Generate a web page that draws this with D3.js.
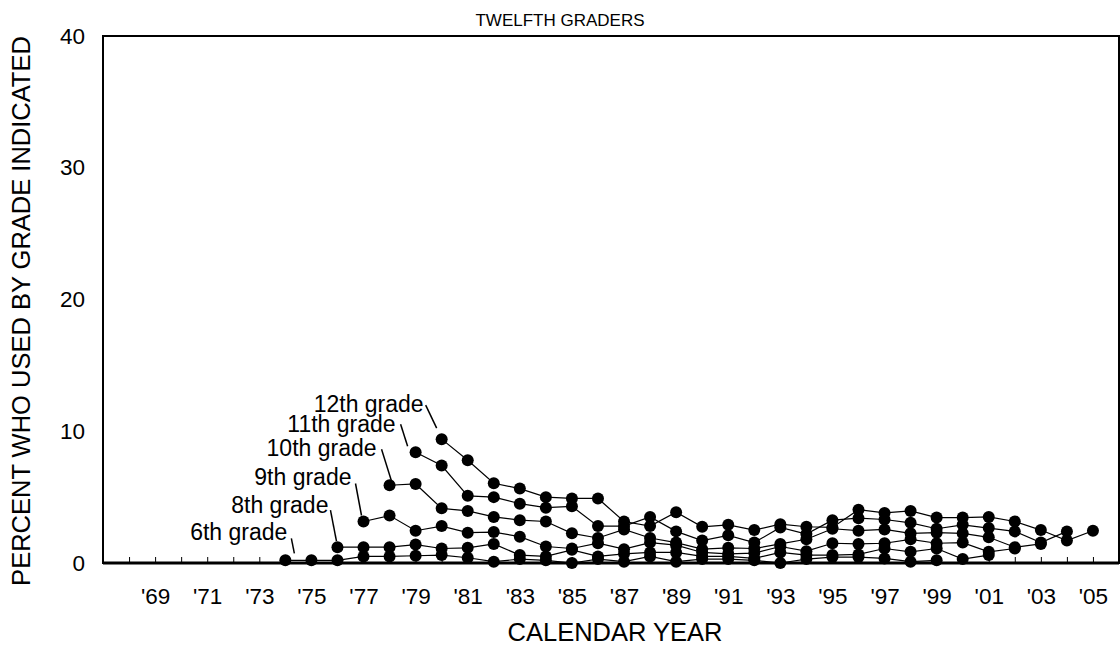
<!DOCTYPE html>
<html>
<head>
<meta charset="utf-8">
<script src="https://cdn.jsdelivr.net/npm/d3@7"></script>
<style>
  html, body { margin: 0; padding: 0; background: #fff; }
  svg { display: block; font-family: "Liberation Sans", Arial, sans-serif; }
</style>
</head>
<body>
<svg id="chart" width="1120" height="646"></svg>
<script>
// ---------- DATA ----------
const grades = ["6th grade", "8th grade", "9th grade", "10th grade", "11th grade", "12th grade"];
const startYears = [1974, 1976, 1977, 1978, 1979, 1980];

const grade6  = [0.2, 0.2, 0.2, 0.5, 0.5, 0.55, 0.6, 0.4, 0.1, 0.3, 0.2, 0.0, 0.3, 0.1, 0.5, 0.1, 0.3, 0.3, 0.2, 0.0, 0.3, 0.45, 0.45, 0.35, 0.1, 0.2];
const grade8  = [1.2, 1.2, 1.2, 1.4, 1.1, 1.15, 1.45, 0.6, 0.5, 1.0, 0.5, 0.7, 0.8, 0.8, 0.5, 0.5, 0.35, 0.8, 0.6, 0.6, 0.65, 1.1, 0.85, 1.1, 0.3, 0.6];
const grade9  = [3.15, 3.6, 2.45, 2.8, 2.3, 2.35, 2.0, 1.25, 1.1, 1.5, 1.05, 1.55, 1.35, 0.8, 0.7, 0.75, 1.25, 0.9, 1.5, 1.45, 1.5, 1.8, 1.5, 1.55, 0.85, 1.1];
const grade10 = [5.9, 6.0, 4.15, 3.95, 3.5, 3.25, 3.15, 2.25, 1.9, 2.55, 1.9, 1.55, 1.05, 1.15, 1.1, 1.45, 1.8, 2.6, 2.45, 2.55, 2.25, 2.3, 2.25, 1.95, 1.2, 1.45];
const grade11 = [8.4, 7.4, 5.1, 5.0, 4.5, 4.2, 4.3, 2.8, 2.8, 3.5, 2.4, 1.7, 2.1, 1.55, 2.7, 2.2, 3.25, 3.4, 3.3, 3.05, 2.6, 2.9, 2.65, 2.4, 1.55, 2.4];
const grade12 = [9.4, 7.8, 6.05, 5.65, 5.0, 4.9, 4.9, 3.15, 2.8, 3.85, 2.75, 2.9, 2.5, 2.95, 2.75, 2.7, 4.05, 3.8, 3.95, 3.45, 3.45, 3.5, 3.15, 2.5, 1.7, 2.45];
const seriesValues = [grade6, grade8, grade9, grade10, grade11, grade12];

const tickYears = [1968, 1969, 1970, 1971, 1972, 1973, 1974, 1975, 1976, 1977, 1978, 1979, 1980, 1981, 1982, 1983, 1984, 1985, 1986,
                   1987, 1988, 1989, 1990, 1991, 1992, 1993, 1994, 1995, 1996, 1997, 1998, 1999, 2000, 2001, 2002, 2003, 2004, 2005];
const labelYears = [1969, 1971, 1973, 1975, 1977, 1979, 1981, 1983, 1985, 1987, 1989, 1991, 1993, 1995, 1997, 1999, 2001, 2003, 2005];
const labelTexts = ["'69", "'71", "'73", "'75", "'77", "'79", "'81", "'83", "'85", "'87", "'89", "'91", "'93", "'95", "'97", "'99", "'01", "'03", "'05"];
const yTicks = [0, 10, 20, 30, 40];

const titleText = "TWELFTH GRADERS";
const xTitle = "CALENDAR YEAR";
const yTitle = "PERCENT WHO USED BY GRADE INDICATED";

// ---------- LAYOUT ----------
const L = 103, R = 1119, T = 36, B = 563;
const svg = d3.select("#chart");

const x = d3.scaleLinear().domain([1967, 2006]).range([L, R]);
const y = d3.scaleLinear().domain([0, 40]).range([B, T]);

// label annotation offsets relative to first point of each series (text end/baseline, leader from/to)
const annot = [
  { tx: 2,   ty: -20, l1: [6, -22],   l2: [9, -7] },
  { tx: -9,  ty: -34, l1: [-7, -37],  l2: [-1, -6] },
  { tx: -12, ty: -36, l1: [-8, -38],  l2: [-2, -6] },
  { tx: -13, ty: -29, l1: [-8, -36],  l2: [2, -4] },
  { tx: -20, ty: -20, l1: [-15, -28], l2: [-8, -6] },
  { tx: -18, ty: -27, l1: [-16, -34], l2: [-5, -11] }
];

// frame
svg.append("rect").attr("x", L).attr("y", T).attr("width", R - L).attr("height", B - T)
  .attr("fill", "none").attr("stroke", "#000").attr("stroke-width", 2);

// x axis ticks (inward, upward)
const xAxis = d3.axisTop(x).tickValues(tickYears).tickSize(6).tickFormat("");
const gx = svg.append("g").attr("transform", `translate(0,${B})`).call(xAxis);
gx.select(".domain").remove();
gx.selectAll(".tick line").attr("stroke", "#000").attr("stroke-width", 1);

// x labels
const xLab = d3.axisBottom(x).tickValues(labelYears).tickSize(0).tickPadding(25)
  .tickFormat((d, i) => labelTexts[i]);
const gxl = svg.append("g").attr("transform", `translate(0,${B})`).call(xLab);
gxl.select(".domain").remove();
gxl.selectAll("text").attr("font-size", 22.5).attr("font-family", "Liberation Sans, Arial, sans-serif").attr("fill", "#000");

// y labels
const yAx = d3.axisLeft(y).tickValues(yTicks).tickSize(0).tickPadding(18);
const gy = svg.append("g").attr("transform", `translate(${L},0)`).call(yAx);
gy.select(".domain").remove();
gy.selectAll("text").attr("font-size", 22.5).attr("font-family", "Liberation Sans, Arial, sans-serif").attr("fill", "#000");

// bottom axis thick line
svg.append("line").attr("x1", L).attr("x2", R).attr("y1", B).attr("y2", B)
  .attr("stroke", "#000").attr("stroke-width", 3);

// series
const line = d3.line().x(d => x(d.year)).y(d => y(d.v));
seriesValues.forEach((vals, si) => {
  const pts = vals.map((v, i) => ({ year: startYears[si] + i, v }));
  svg.append("path").datum(pts).attr("d", line)
    .attr("fill", "none").attr("stroke", "#000").attr("stroke-width", 1.2);
  svg.append("g").selectAll("circle").data(pts).join("circle")
    .attr("cx", d => x(d.year)).attr("cy", d => y(d.v)).attr("r", 6).attr("fill", "#000");

  const p0 = pts[0], a = annot[si];
  const px = x(p0.year), py = y(p0.v);
  svg.append("text").attr("x", px + a.tx).attr("y", py + a.ty)
    .attr("text-anchor", "end").attr("font-size", 23).attr("fill", "#000").text(grades[si]);
  svg.append("line").attr("x1", px + a.l1[0]).attr("y1", py + a.l1[1])
    .attr("x2", px + a.l2[0]).attr("y2", py + a.l2[1])
    .attr("stroke", "#000").attr("stroke-width", 1.5);
});

// titles
svg.append("text").attr("x", 560).attr("y", 26).attr("text-anchor", "middle")
  .attr("font-size", 17).attr("fill", "#000").text(titleText);
svg.append("text").attr("x", (L + R) / 2 + 4).attr("y", 641).attr("text-anchor", "middle")
  .attr("font-size", 25.5).attr("fill", "#000").text(xTitle);
svg.append("text").attr("transform", `translate(30,311) rotate(-90)`)
  .attr("text-anchor", "middle").attr("font-size", 25.5).attr("fill", "#000").text(yTitle);
</script>
</body>
</html>
